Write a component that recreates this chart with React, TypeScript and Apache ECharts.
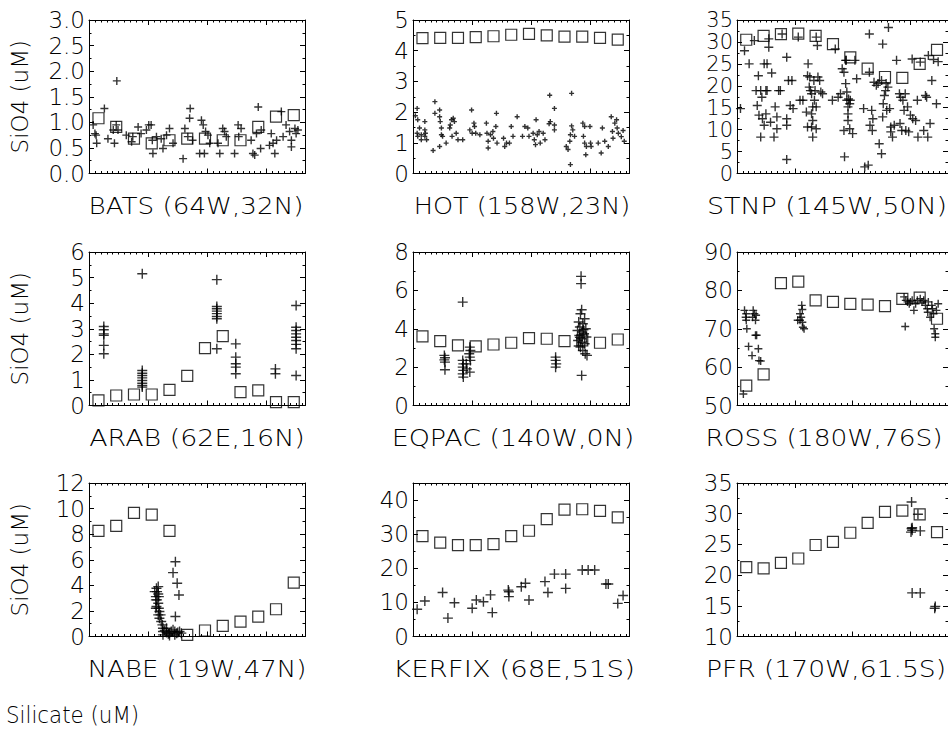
import React, { useEffect, useRef } from "react";
import * as echarts from "echarts";

// ---------- data ----------
const MONTH_DAYS = [16, 46, 76, 106, 136, 166, 196, 226, 256, 286, 316, 346];

const STATION_TITLES = [
  "BATS (64W,32N)", "HOT (158W,23N)", "STNP (145W,50N)",
  "ARAB (62E,16N)", "EQPAC (140W,0N)", "ROSS (180W,76S)",
  "NABE (19W,47N)", "KERFIX (68E,51S)", "PFR (170W,61.5S)",
];
const Y_MIN = [0, 0, 0, 0, 0, 50, 0, 0, 10];
const Y_MAX = [3, 5, 35, 6, 8, 90, 12, 45, 35];
const Y_STEP = [0.5, 1, 5, 1, 2, 10, 2, 10, 5];
const Y_DECIMALS = [1, 0, 0, 0, 0, 0, 0, 0, 0];
const Y_NAME = "SiO4 (uM)";
const FOOTER = "Silicate (uM)";

const batsClim = [1.08, 0.91, 0.68, 0.59, 0.65, 0.68, 0.68, 0.65, 0.65, 0.91, 1.11, 1.14];
const hotClim = [4.41, 4.42, 4.42, 4.44, 4.47, 4.52, 4.55, 4.5, 4.46, 4.46, 4.42, 4.36];
const stnpClim = [30.5, 31.4, 31.8, 31.9, 31.4, 29.5, 26.5, 23.9, 22.0, 21.8, 25.0, 28.2];
const arabClim = [0.2, 0.39, 0.43, 0.43, 0.61, 1.16, 2.24, 2.71, 0.52, 0.59, 0.13, 0.13];
const eqpacClim = [3.6, 3.36, 3.13, 3.08, 3.18, 3.27, 3.51, 3.48, 3.36, 3.39, 3.27, 3.44];
const rossClim = [55.2, 58.1, 81.9, 82.3, 77.4, 77.0, 76.5, 76.3, 75.9, 77.8, 78.1, 72.6];
const nabeClim = [8.26, 8.65, 9.66, 9.53, 8.26, 0.13, 0.47, 0.83, 1.17, 1.56, 2.13, 4.21];
const kerfixClim = [29.4, 27.5, 26.8, 26.8, 27.1, 29.4, 31.0, 34.4, 37.2, 37.3, 36.8, 34.9];
const pfrClim = [21.3, 21.1, 22.0, 22.7, 24.9, 25.4, 26.9, 28.5, 30.3, 30.5, 29.9, 27.0];

const batsObs = [[7,0.95],[10,0.78],[12,0.75],[13,0.59],[26,1.27],[32,0.68],[41,0.85],[43,0.59],[46,0.95],[47,1.81],[49,0.85],[63,0.75],[72,0.62],[74,0.72],[83,0.91],[88,0.78],[97,0.85],[101,0.95],[105,0.95],[107,0.65],[108,0.39],[114,0.72],[122,0.68],[125,0.49],[131,0.75],[136,0.88],[142,0.59],[159,0.29],[162,0.88],[167,0.72],[171,1.27],[170,1.08],[175,0.65],[187,0.39],[190,1.04],[193,0.95],[195,0.39],[197,0.82],[201,0.75],[204,0.59],[218,0.59],[221,0.39],[226,0.88],[229,0.82],[232,0.72],[246,0.39],[252,0.95],[253,0.72],[257,0.88],[274,0.65],[277,0.39],[280,0.36],[283,0.78],[286,1.3],[290,0.49],[291,0.85],[305,0.55],[308,0.78],[311,0.59],[314,0.39],[317,0.65],[325,1.21],[328,0.72],[333,0.95],[339,0.82],[342,0.65],[342,0.52],[348,0.88],[350,0.78],[353,0.85]];

const hotObs = [[4,1.88],[7,2.12],[8,1.75],[7,1.31],[8,1.21],[11,1.48],[14,1.26],[14,1.1],[20,1.69],[20,1.42],[20,1.21],[21,1.31],[23,1.1],[34,0.75],[37,2.34],[37,1.96],[45,2.07],[45,1.85],[46,1.69],[48,1.48],[48,1.26],[50,1.21],[45,0.88],[56,0.99],[62,1.48],[63,1.58],[65,1.75],[68,1.8],[70,1.69],[66,1.21],[73,1.31],[76,1.1],[84,1.1],[96,1.42],[99,2.07],[100,1.31],[103,1.64],[104,1.53],[106,1.31],[113,1.26],[124,1.64],[125,1.31],[127,1.05],[127,0.83],[131,1.26],[135,1.37],[136,1.15],[140,1.53],[141,1.96],[142,0.99],[153,1.15],[155,0.88],[158,0.99],[163,0.99],[166,1.53],[169,1.21],[176,1.85],[185,1.21],[189,1.53],[194,1.48],[196,1.21],[203,1.31],[205,1.1],[207,0.94],[208,1.75],[210,1.26],[213,1.37],[215,0.99],[220,1.31],[223,1.1],[230,1.62],[231,2.55],[232,1.69],[239,2.12],[239,1.58],[239,1.42],[259,0.88],[262,0.78],[265,1.05],[266,0.29],[266,1.26],[268,2.61],[268,1.55],[270,1.42],[273,1.21],[287,1.64],[288,1.21],[290,1.53],[290,0.99],[292,0.61],[293,0.88],[299,1.53],[300,0.99],[301,0.88],[313,0.99],[318,0.67],[320,1.48],[324,1.05],[330,0.88],[335,1.85],[337,1.37],[338,1.15],[341,1.64],[344,1.75],[345,1.48],[347,1.31],[352,1.2],[355,1.4],[357,1.05]];

const stnpObs = [[6,14.8],[13,28.0],[21,25.0],[30,30.3],[33,18.9],[35,15.5],[37,22.3],[38,13.3],[41,18.9],[43,17.4],[44,12.5],[47,11.0],[47,25.0],[50,18.9],[50,13.6],[52,25.0],[52,18.9],[55,28.8],[55,30.7],[60,22.9],[41,8.3],[58,11.7],[64,8.3],[66,15.2],[69,10.2],[72,18.9],[75,18.9],[69,12.9],[78,31.8],[86,26.5],[86,12.5],[86,11.0],[86,3.2],[89,21.2],[92,15.5],[95,21.2],[97,14.8],[106,31.1],[109,16.7],[114,16.7],[120,14.0],[122,10.6],[123,25.0],[122,22.3],[125,19.7],[126,22.0],[127,18.9],[129,18.2],[129,13.6],[129,10.6],[131,15.2],[131,12.1],[131,8.3],[133,21.2],[134,16.7],[135,18.9],[137,31.1],[137,15.2],[137,10.2],[139,29.2],[140,22.0],[143,21.2],[145,18.6],[148,18.2],[165,16.7],[170,28.4],[175,17.4],[179,18.2],[182,23.9],[185,23.1],[185,9.8],[186,3.8],[188,25.8],[188,20.5],[189,25.8],[190,18.6],[190,16.7],[192,15.2],[192,13.6],[192,12.1],[193,17.0],[195,15.9],[195,10.2],[196,16.7],[200,9.1],[204,25.8],[207,21.6],[219,14.8],[221,1.5],[227,1.9],[229,31.8],[229,23.1],[230,11.0],[233,14.4],[234,9.8],[235,12.5],[237,20.8],[241,20.1],[244,20.5],[246,6.8],[250,4.5],[250,21.2],[252,29.5],[252,12.9],[253,15.9],[255,17.8],[257,18.9],[258,20.5],[259,14.4],[261,19.7],[262,33.3],[264,14.8],[266,9.5],[266,10.6],[269,8.3],[272,11.0],[276,25.8],[281,18.2],[282,11.4],[283,17.4],[285,9.8],[287,16.7],[289,14.4],[291,18.2],[292,9.8],[295,15.2],[297,9.5],[300,13.3],[303,26.1],[304,12.5],[309,12.1],[312,16.7],[313,8.3],[317,25.4],[323,9.8],[326,17.8],[328,17.4],[330,8.3],[331,26.9],[334,11.4],[337,21.2],[345,15.9],[340,26.0],[348,25.5]];

const arabObs = [[25,3.09],[25,2.96],[25,2.8],[25,2.74],[25,2.35],[25,2.02],[90,5.15],[90,1.37],[90,1.26],[90,1.17],[90,1.08],[90,0.98],[90,0.87],[90,0.78],[90,0.72],[216,4.92],[216,3.87],[216,3.78],[216,3.69],[216,3.59],[216,3.48],[216,3.39],[216,2.22],[248,2.41],[248,1.89],[248,1.63],[248,1.5],[248,1.24],[315,1.43],[315,1.24],[350,3.91],[350,3.06],[350,2.93],[350,2.8],[350,2.67],[350,2.54],[350,2.39],[350,2.22],[350,1.17]];

const eqpacObs = [[53,2.61],[54,2.49],[53,2.38],[54,2.26],[54,1.86],[84,5.39],[84,2.35],[85,2.17],[84,2.0],[85,1.83],[84,1.65],[85,1.48],[96,3.04],[97,2.87],[95,2.7],[96,2.52],[97,2.35],[96,1.74],[90,2.17],[91,1.91],[241,2.52],[241,2.35],[242,2.17],[241,2.0],[284,6.73],[284,6.35],[285,4.99],[283,4.78],[290,4.52],[280,4.35],[287,4.26],[282,4.09],[292,4.0],[278,3.91],[286,3.83],[289,3.74],[281,3.65],[293,3.57],[284,3.48],[279,3.39],[290,3.22],[283,3.04],[287,2.87],[291,2.7],[294,2.61],[285,1.57],[288,3.95],[282,3.55],[286,3.3],[280,3.1]];

const rossObs = [[11,53.0],[13,74.8],[16,73.9],[15,73.0],[16,72.2],[17,70.0],[20,65.4],[26,63.0],[28,74.8],[30,73.9],[27,73.0],[33,73.5],[32,72.2],[32,68.3],[34,68.3],[37,64.8],[38,61.7],[41,61.6],[105,72.2],[109,73.9],[111,73.0],[112,76.1],[113,75.0],[113,71.7],[114,70.4],[116,70.0],[109,72.2],[291,70.6],[289,78.3],[292,77.4],[295,77.0],[298,76.5],[300,77.0],[303,77.4],[306,74.8],[309,76.5],[312,77.4],[317,77.8],[320,77.0],[323,77.4],[326,76.1],[329,75.2],[330,74.3],[331,77.0],[334,73.0],[337,76.1],[338,75.2],[340,73.9],[341,70.0],[343,68.7],[343,67.8],[345,74.8],[348,76.5]];

const nabeObs = [[114,3.77],[115,3.51],[117,3.32],[113,3.12],[118,3.12],[115,2.86],[117,2.6],[114,2.34],[118,2.21],[119,1.95],[121,1.69],[119,1.43],[122,1.17],[124,0.91],[125,0.65],[128,0.47],[131,0.31],[134,0.21],[136,0.26],[139,0.39],[142,0.52],[145,0.39],[148,0.26],[150,0.31],[153,0.39],[156,0.26],[125,0.13],[117,3.9],[111,3.51],[113,2.86],[113,2.21],[117,1.69],[125,0.39],[136,0.08],[145,0.13],[131,0.65],[146,5.84],[142,4.99],[149,4.16],[152,3.25],[146,1.56]];

const kerfixObs = [[7,8.0],[20,10.4],[50,12.9],[59,5.4],[70,9.9],[100,8.3],[107,10.7],[119,10.2],[131,12.2],[134,7.0],[161,13.6],[162,11.7],[162,13.1],[183,14.6],[190,15.6],[196,10.7],[223,16.1],[228,12.9],[239,18.3],[258,18.3],[258,14.1],[286,19.5],[296,19.5],[307,19.5],[326,15.4],[330,15.4],[346,9.7],[355,12.0]];

const pfrObs = [[302,31.9],[302,27.6],[303,27.3],[301,27.0],[303,27.7],[313,29.9],[317,27.2],[303,17.1],[317,17.1],[342,14.6],[343,14.9]];

const CLIM = [batsClim, hotClim, stnpClim, arabClim, eqpacClim, rossClim, nabeClim, kerfixClim, pfrClim];
const OBS = [batsObs, hotObs, stnpObs, arabObs, eqpacObs, rossObs, nabeObs, kerfixObs, pfrObs];

// ---------- layout / style ----------
const GRID_LEFT = [89, 413, 737];
const GRID_TOP = [20, 252, 483];
const GRID_W = 216;
const GRID_H = 153.5;
const TITLE_X = [196, 522, 827, 197, 513, 824, 197, 514, 826];
const TITLE_SCALE = [1.14, 1.11, 1.17, 1.17, 1.17, 1.15, 1.13, 1.2, 1.155];
const TITLE_Y = [206, 438, 669];
const PLUS_SIZE = [8, 5, 9, 10, 10, 8, 10, 10, 10];
const LABEL_FS = [23, 23, 21, 23, 23, 23, 23, 23, 23];
const FONT = "DejaVu Sans";
const FW = 200;
const FS = 23;

function plusPath(size: number, thick = 1.4) {
  const t = (thick / size) * 100;
  const a = 50 - t / 2;
  const b = 50 + t / 2;
  return `path://M0,${a}H100V${b}H0Z M${a},0H${b}V100H${a}Z`;
}

function buildOption() {
  const grid: any[] = [];
  const xAxis: any[] = [];
  const yAxis: any[] = [];
  const series: any[] = [];
  const graphic: any[] = [];
  const line = { color: "#000", width: 1 };
  for (let i = 0; i < 9; i++) {
    const col = i % 3;
    const row = Math.floor(i / 3);
    grid.push({ left: GRID_LEFT[col], top: GRID_TOP[row], width: GRID_W, height: GRID_H, containLabel: false });
    const xBase = {
      gridIndex: i, type: "value", min: 0, max: 365, interval: 100,
      axisLine: { show: true, onZero: false, lineStyle: line },
      axisTick: { show: true, inside: true, length: 5, lineStyle: line },
      minorTick: { show: true, splitNumber: 10, length: 2.5, lineStyle: line },
      axisLabel: { show: false }, splitLine: { show: false }, minorSplitLine: { show: false },
    };
    xAxis.push({ ...xBase, position: "bottom" });
    xAxis.push({ ...xBase, position: "top" });
    const mn = Y_MIN[i], mx = Y_MAX[i], st = Y_STEP[i], dec = Y_DECIMALS[i];
    const yBase = {
      gridIndex: i, type: "value", min: mn, max: mx, interval: st,
      axisLine: { show: true, onZero: false, lineStyle: line },
      axisTick: { show: true, inside: true, length: 5, lineStyle: line },
      minorTick: { show: true, splitNumber: 2, length: 2.5, lineStyle: line },
      splitLine: { show: false }, minorSplitLine: { show: false },
    };
    yAxis.push({
      ...yBase, position: "left",
      axisLabel: {
        show: true, margin: 4, fontFamily: FONT, fontWeight: FW, fontSize: LABEL_FS[i], color: "#000",
        lineHeight: 18, showMinLabel: true, showMaxLabel: true,
        formatter: (v: number) => {
          const r = (v - mn) / st;
          if (Math.abs(r - Math.round(r)) > 1e-6) return "";
          return v.toFixed(dec);
        },
      },
    });
    yAxis.push({ ...yBase, position: "right", axisLabel: { show: false } });
    series.push({
      type: "scatter", xAxisIndex: 2 * i, yAxisIndex: 2 * i,
      data: OBS[i], symbol: plusPath(PLUS_SIZE[i]), symbolSize: PLUS_SIZE[i],
      itemStyle: { color: "#000" }, z: 2,
    });
    series.push({
      type: "scatter", xAxisIndex: 2 * i, yAxisIndex: 2 * i,
      data: MONTH_DAYS.map((d, k) => [d, CLIM[i][k]]), symbol: "rect", symbolSize: 11,
      itemStyle: { color: "rgba(0,0,0,0)", borderColor: "#000", borderWidth: 1.2 }, z: 3,
    });
    graphic.push({
      type: "text", x: TITLE_X[i], y: TITLE_Y[row], scaleX: TITLE_SCALE[i],
      style: { text: STATION_TITLES[i], x: 0, y: 0, align: "center", verticalAlign: "middle",
        fontFamily: FONT, fontWeight: FW, fontSize: FS, fill: "#000" },
    });
  }
  for (let r = 0; r < 3; r++) {
    graphic.push({
      type: "text", x: 20, y: GRID_TOP[r] + GRID_H / 2, rotation: Math.PI / 2,
      style: { text: Y_NAME, x: 0, y: 0, align: "center", verticalAlign: "middle",
        fontFamily: FONT, fontWeight: FW, fontSize: FS, fill: "#000" },
    });
  }
  graphic.push({
    type: "text", x: 6, y: 715, scaleX: 0.93,
    style: { text: FOOTER, x: 0, y: 0, align: "left", verticalAlign: "middle",
      fontFamily: FONT, fontWeight: FW, fontSize: FS, fill: "#000" },
  });
  return { animation: false, backgroundColor: "#fff", grid, xAxis, yAxis, series, graphic };
}

export default function App() {
  const ref = useRef<HTMLDivElement>(null);
  useEffect(() => {
    if (!ref.current) return;
    const chart = echarts.init(ref.current, undefined, { renderer: "svg" });
    chart.setOption(buildOption() as any);
    return () => chart.dispose();
  }, []);
  return <div ref={ref} style={{ position: "absolute", left: 0, top: 0, width: 948, height: 751 }} />;
}
